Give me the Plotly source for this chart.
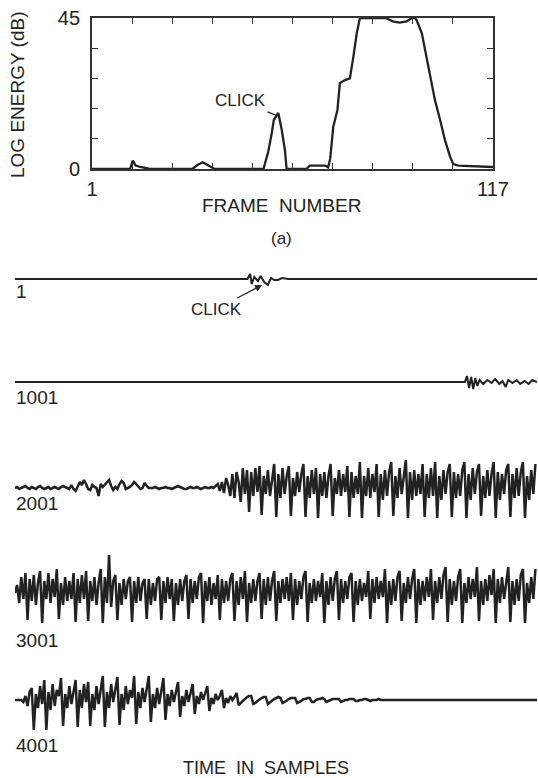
import numpy as np
import plotly.graph_objects as go

W, H = 538, 778
INK = "#222222"
FONT = "Liberation Sans, Arial, Helvetica, sans-serif"

# ---------------- (a) log energy contour ----------------
frame_num = [1, 12, 12.8, 13.6, 15, 17.8,
             30, 31.5, 33, 34.5, 36.5,
             50.6, 52, 53, 53.6, 54.9, 55.9, 56.8, 57.3,
             63, 64, 68.5, 69.3,
             69.9, 70.8, 72, 72.7, 74.2, 75.6, 76.6, 77.6, 78.5,
             86, 88, 90, 92, 93.5, 94.4,
             94.9, 96.4, 97.8, 98.8, 100.2, 101.7, 103.1, 104.6, 105.5,
             107, 112, 117]
log_energy_db = [0, 0, 2.5, 1, 0.6, 0,
                 0, 1.2, 2, 1.2, 0,
                 0, 5.2, 10.7, 14.6, 16.7, 11.6, 5.7, 0,
                 0, 1, 1, 0.5,
                 3, 12.6, 17.6, 25.6, 26.5, 27, 33.4, 40.5, 45,
                 45, 44, 43.6, 44, 45, 45,
                 44.4, 40.5, 33.4, 27.4, 20.6, 14.6, 8.6, 3.6, 1.5,
                 1, 0.8, 0.6]

energy_ticks = [0, 9, 18, 27, 36, 45]
energy_ticktext = ["0", "", "", "", "", "45"]
frame_ticks = [1, 12.6, 24.2, 35.8, 47.4, 59, 70.6, 82.2, 93.8, 105.4, 117]
frame_ticktext = ["1", "", "", "", "", "", "", "", "", "", "117"]

# ---------------- waveform, 1000 samples per line ----------------
row_starts = [1, 1001, 2001, 3001, 4001]
row_labels = ["1", "1001", "2001", "3001", "4001"]
GRID_STEP = 4  # sample spacing of the listed amplitudes for the voiced lines

# line 1: silence with the click
row1_samples = [1, 446, 451, 454, 459, 466, 471, 478, 485, 491, 497, 504, 512, 524, 1000]
row1_amp = [0, 0, 5, -5, 2, -2, 3, -3, -6, 1, -1, -1, 1, 0, 0]

# line 1001: silence, low-level noise near the end
row1001_samples = [1001, 1862, 1866, 1870, 1874, 1878, 1882, 1886, 1890, 1897, 1905,
                   1913, 1920, 1928, 1934, 1940, 1945, 1953, 1961, 1968, 1976, 1984,
                   1991, 2000]
row1001_amp = [0, 0, 6, -6, 5, -7, 4, -4, 2, -2, 2,
               -1, 3, -2, 1, -5, 2, -1, 2, -2, 1, -2,
               2, 0]

# line 2001: weak onset, then voicing
wave_2001 = [
    0, 1, -1, 0, 1, 2, 0, -1, 1, 0, -1, 1, 2, 0, -1, 0, 1, -1, 0, 1, 0, -1, 1, 2, 1, 0, -1,
    3, -1, -3, 2, 6, 3, 8, 4, -1, -2, 3, 1, 0, -8, 4, 1, 3, 6, 8, 2, -2, 1, -1, 4,
    7, 5, -1, 0, 1, 3, 6, 4, 1, -1, 0, 5, 2, 0,
    0, 0, 1, 0, -1, 0, 0, 1, 0, 0, -1, 0, 1, 2, 1, 0, -1, -1, 0, 1, 0, 0, 1, 0,
    -1, 0, 1, 0, 0, 1, 0, 2,
    4, -3, 6, -5, 10, 3, -8, 14, -10, 16, 6, -14, 20, -6, 18,
    -24, 16, -8, 20, -4, 22,
    -27, 12, -6, 18, -8, 10, 24,
    -29, 14, -10, 20, -6, 12, 22,
    -28, 10, -8, 16, -4, 14, 24,
    -29, 12, -10, 18, -6, 20,
    -30, 14, -8, 16, -10, 12, 24,
    -28, 10, -6, 18, -8, 14, -4, 22,
    -29, 16, -10, 12, -6, 26,
    -30, 12, -8, 20, -10, 14, -4, 24,
    -29, 14, -12, 18, -8, 16, 26,
    -28, 12, -10, 20, -6, 14, 28,
    -30, 16, -12, 18, -8, 14, -6, 24,
    -29, 14, -10, 20, -8, 26,
    -30, 12, -12, 18, -6, 16, 24,
    -29, 16, -10, 14, -8, 18, 26,
    -30, 14, -12, 20, -6, 16, 24,
    -28, 12, -10, 18, -8, 14, 26,
    -30, 16, -12, 14, -6, 18, 24,
    -29, 14, -10, 20, -8, 16, 26,
    -30, 12, -12, 18, -6, 24,
]

# line 3001: fully voiced
wave_3001 = [
    0, 8, -10, 16, -6, 20,
    -27, 14, -8, 18, -12, 10, 22,
    -30, 12, -6, 20, -10, 14, -4, 24,
    -26, 10, -12, 16, -8, 12, -6, 20,
    -29, 14, -10, 18, -6, 22,
    -28, 12, -8, 16, -12, 10, 24,
    -30, 16, -10, 38, -14, 12, 18,
    -27, 10, -12, 14, -6, 12, 16,
    -29, 12, -10, 16, -8, 10, 14,
    -26, 14, -12, 10, -8, 14, 16,
    -27, 12, -10, 16, -6, 14,
    -28, 10, -12, 14, -8, 12, 18,
    -26, 14, -10, 12, -6, 16, 20,
    -30, 12, -8, 16, -12, 10, -6, 18,
    -27, 14, -10, 12, -8, 14, 20,
    -28, 12, -12, 16, -6, 22,
    -29, 10, -10, 14, -8, 12, 20,
    -26, 14, -12, 16, -8, 12, 22,
    -28, 12, -10, 14, -6, 16, -8, 20,
    -27, 14, -12, 12, -6, 16, 22,
    -29, 10, -10, 14, -8, 12, -4, 20,
    -30, 12, -12, 16, -8, 14, 22,
    -27, 14, -10, 12, -6, 16, 20,
    -29, 12, -12, 14, -8, 10, -4, 22,
    -26, 14, -10, 16, -6, 12, -4, 24,
    -30, 12, -12, 14, -8, 16, 22,
    -28, 10, -10, 16, -6, 14, 24,
    -30, 14, -12, 12, -8, 16, -4, 24,
    -27, 12, -10, 16, -6, 18, 26,
    -29, 14, -12, 12, -8, 16, 24,
    -30, 10, -10, 16, -6, 14, -4, 26,
    -28, 12, -12, 14, -8, 18, -2, 24,
    -30, 14, -10, 16, -6, 12, 26,
    -29, 12, -12, 14, -8, 18, 24,
    -30, 10, -10, 16, -6, 24,
]

# line 4001: voicing decays into silence
wave_4001 = [
    0, 0, 0, 0, -2, 4, -6, 8, 12,
    -30, 6, -8, 14, -4, 20,
    -30, 8, -10, 16, -6, 10, 4, 22,
    -26, 6, -8, 14, -4, 8, 20,
    -27, 10, -8, 16, -2, 18,
    -26, 6, -10, 14, -4, 10, 24,
    -27, 8, -8, 16, -2, 12, 23,
    -25, 6, -10, 14, -4, 10, 2, 24,
    -24, 8, -8, 12, -2, 10, 24,
    -22, 6, -8, 12, -4, 8, 22,
    -20, 6, -6, 10, -2, 8, 18,
    -17, 4, -6, 10, -2, 6, 16,
    -14, 4, -4, 8, 0, 6, 14,
    -11, 2, -4, 6, 0, 4, 10,
    -8, 2, -3, 4, 0, 3, 7,
    -5, -3, 0, 2, 3, 4, 4,
    -4, -3, -1, 1, 2, 3, 3,
    -4, -2, 0, 1, 2, 3, 2,
    -3, -2, 0, 1, 2, 2, 2,
    -3, -2, -1, 1, 1, 2, 2,
    -2, -2, 0, 1, 1, 2, 1,
    -2, -1, 0, 1, 1, 1, 1,
    -2, -1, 0, 0, 1, 1, 1,
    -1, -1, 0, 0, 1, 1, 0,
    -1, 0, 0, 0, 1, 0, 0,
]
row4001_end = 5000  # flat line to the end of the line


def grid_x(start, values):
    return [start + GRID_STEP * k for k in range(len(values))]


rows = [
    (row1_samples, row1_amp),
    (row1001_samples, row1001_amp),
    (grid_x(2001, wave_2001), wave_2001),
    (grid_x(3001, wave_3001), wave_3001),
    (grid_x(4001, wave_4001) + [row4001_end], wave_4001 + [0]),
]

# ---------------- layout helpers (pixel -> paper) ----------------
def px_x(p):
    return p / W


def px_y(p):
    return 1 - p / H


fig = go.Figure()

fig.add_trace(go.Scatter(
    x=frame_num, y=log_energy_db, mode="lines",
    line=dict(color=INK, width=2.3),
    xaxis="x", yaxis="y", showlegend=False, hoverinfo="skip",
))

row_baselines = [279, 382, 488, 593, 700]
HALF = 45
for k, (xs, ys) in enumerate(rows):
    n = k + 2
    fig.add_trace(go.Scatter(
        x=xs, y=ys, mode="lines",
        line=dict(color=INK, width=2.5 if k >= 2 else 2.0),
        xaxis=f"x{n}", yaxis=f"y{n}", showlegend=False, hoverinfo="skip",
    ))

axis_common = dict(showgrid=False, zeroline=False, showline=True, linecolor="#333333",
                   linewidth=1.8, ticks="inside", ticklen=6, tickwidth=1.4,
                   tickcolor="#333333", mirror="ticks", automargin=False,
                   tickfont=dict(family=FONT, size=20, color=INK))

layout = dict(
    template="none",
    width=W, height=H, autosize=False,
    margin=dict(l=0, r=0, t=0, b=0, pad=0, autoexpand=False),
    paper_bgcolor="white", plot_bgcolor="rgba(0,0,0,0)",
    showlegend=False,
    xaxis=dict(domain=[px_x(92), px_x(493)], range=[1, 117], anchor="y",
               tickmode="array", tickvals=frame_ticks, ticktext=frame_ticktext,
               ticklabelstandoff=1, **axis_common),
    yaxis=dict(domain=[px_y(169), px_y(18)], range=[0, 45], anchor="x",
               tickmode="array", tickvals=energy_ticks, ticktext=energy_ticktext,
               ticklabelstandoff=6, **axis_common),
)

for k, start in enumerate(row_starts):
    n = k + 2
    b = row_baselines[k]
    layout[f"xaxis{n}"] = dict(domain=[px_x(15), px_x(537)], range=[start, start + 999],
                               anchor=f"y{n}", visible=False, automargin=False)
    layout[f"yaxis{n}"] = dict(domain=[px_y(b + HALF), px_y(b - HALF)], range=[-HALF, HALF],
                               anchor=f"x{n}", visible=False, automargin=False)

fig.update_layout(**layout)

txt = dict(family=FONT, color=INK)
annotations = [
    dict(text="LOG ENERGY (dB)", x=px_x(17), y=px_y(95), textangle=-90,
         font=dict(size=19, **txt)),
    dict(text="FRAME\u00a0\u00a0NUMBER", x=px_x(281), y=px_y(205),
         font=dict(size=19, **txt)),
    dict(text="(a)", x=px_x(281), y=px_y(238), font=dict(size=17, **txt)),
    dict(text="TIME\u00a0 IN\u00a0 SAMPLES", x=px_x(266), y=px_y(768),
         font=dict(size=18, **txt)),
]
for k, lab in enumerate(row_labels):
    label_y = [292, 397, 503, 640, 745][k]
    annotations.append(dict(text=lab, x=px_x(14), y=px_y(label_y), xanchor="left",
                            font=dict(size=19, **txt)))
for a in annotations:
    a.update(xref="paper", yref="paper", showarrow=False,
             xanchor=a.get("xanchor", "center"), yanchor="middle")

# click markers
annotations.append(dict(text="CLICK", x=54.7, y=15.8, xref="x", yref="y",
                        showarrow=True, arrowhead=0, arrowwidth=1.3, arrowcolor=INK,
                        ax=-37, ay=-15, standoff=1, font=dict(size=17, **txt)))
annotations.append(dict(text="CLICK", x=474, y=-6, xref="x2", yref="y2",
                        showarrow=True, arrowhead=2, arrowsize=1.1, arrowwidth=1.3,
                        arrowcolor=INK, ax=-46, ay=24, standoff=0,
                        font=dict(size=17, **txt)))
fig.update_layout(annotations=annotations)

fig.write_html("out.html")
